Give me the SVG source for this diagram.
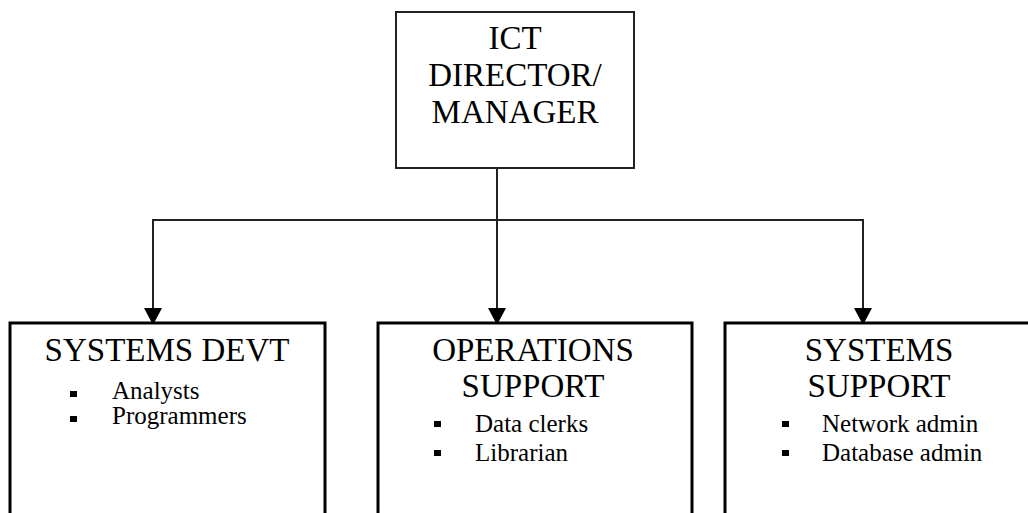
<svg xmlns="http://www.w3.org/2000/svg" width="1028" height="513" viewBox="0 0 1028 513">
<style>
  .title { font-family: "Liberation Serif", "Times New Roman", serif; font-size: 33px; fill: #000; text-anchor: middle; }
  .item { font-family: "Liberation Serif", "Times New Roman", serif; font-size: 25px; fill: #000; }
  .topbox { fill: #fff; stroke: #222; stroke-width: 2; }
  .box { fill: #fff; stroke: #000; stroke-width: 3; }
  .conn { fill: none; stroke: #222; stroke-width: 2; }
  .bullet { fill: #000; }
</style>
<defs>
  <marker id="arrow" markerUnits="userSpaceOnUse" markerWidth="18" markerHeight="18" refX="17" refY="9" orient="auto">
    <path d="M0,0 L17,9 L0,18 Z" fill="#000"/>
  </marker>
</defs>
<rect width="1028" height="513" fill="#fff"/>

<g id="connectors">
  <line class="conn" x1="497" y1="168" x2="497" y2="220"/>
  <line class="conn" x1="152" y1="220" x2="864" y2="220"/>
  <line class="conn" x1="153" y1="219" x2="153" y2="325" marker-end="url(#arrow)"/>
  <line class="conn" x1="497" y1="219" x2="497" y2="325" marker-end="url(#arrow)"/>
  <line class="conn" x1="863" y1="219" x2="863" y2="325" marker-end="url(#arrow)"/>
</g>

<g id="node-director">
  <rect class="topbox" x="396" y="12" width="238" height="156"/>
  <text class="title" x="515" y="49">ICT</text>
  <text class="title" x="515" y="86">DIRECTOR/</text>
  <text class="title" x="515" y="123">MANAGER</text>
</g>

<g id="node-systems-devt">
  <path class="box" d="M10,520 L10,323 L325,323 L325,520"/>
  <text class="title" x="167" y="361">SYSTEMS DEVT</text>
  <rect class="bullet" x="70" y="391" width="7" height="6"/>
  <text class="item" x="112" y="399">Analysts</text>
  <rect class="bullet" x="70" y="416" width="7" height="6"/>
  <text class="item" x="112" y="424">Programmers</text>
</g>

<g id="node-operations-support">
  <path class="box" d="M378,520 L378,323 L692,323 L692,520"/>
  <text class="title" x="533" y="361">OPERATIONS</text>
  <text class="title" x="533" y="397">SUPPORT</text>
  <rect class="bullet" x="434" y="421" width="7" height="6"/>
  <text class="item" x="475" y="432">Data clerks</text>
  <rect class="bullet" x="434" y="450" width="7" height="6"/>
  <text class="item" x="475" y="461">Librarian</text>
</g>

<g id="node-systems-support">
  <path class="box" d="M725,520 L725,323 L1040,323"/>
  <text class="title" x="879" y="361">SYSTEMS</text>
  <text class="title" x="879" y="397">SUPPORT</text>
  <rect class="bullet" x="782" y="421" width="7" height="6"/>
  <text class="item" x="822" y="432">Network admin</text>
  <rect class="bullet" x="782" y="450" width="7" height="6"/>
  <text class="item" x="822" y="461">Database admin</text>
</g>
</svg>
